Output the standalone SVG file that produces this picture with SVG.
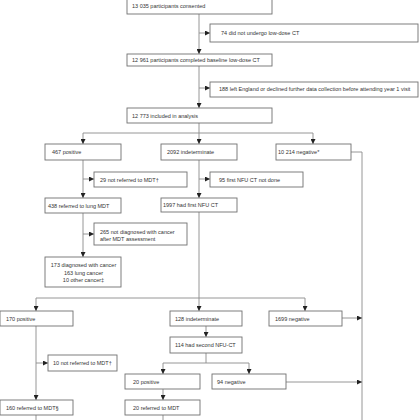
<svg xmlns="http://www.w3.org/2000/svg" width="420" height="420" viewBox="0 0 420 420">
<defs>
<marker id="ah" markerUnits="userSpaceOnUse" markerWidth="5" markerHeight="5" viewBox="0 0 10 10" refX="10" refY="5" orient="auto">
<path d="M0,0 L10,5 L0,10 Z" fill="#222"/>
</marker>
<style>
.box{fill:#fff;stroke:#707070;stroke-width:0.9}
.t{font-family:"Liberation Sans",Arial,sans-serif;font-size:5.5px;fill:#333}
.c{text-anchor:middle}
.ln{fill:none;stroke:#8a8a8a;stroke-width:0.9}
.ar{fill:none;stroke:#8a8a8a;stroke-width:0.9;marker-end:url(#ah)}
</style>
</defs>
<rect width="420" height="420" fill="#fff"/>
<g id="connectors">
<line class="ar" x1="199" y1="14" x2="199" y2="54"/>
<line class="ar" x1="199" y1="33" x2="210" y2="33"/>
<line class="ar" x1="199" y1="66" x2="199" y2="108"/>
<line class="ar" x1="199" y1="88" x2="210" y2="88"/>
<path class="ln" d="M199,123 V133 M83,133 H313"/>
<line class="ar" x1="83" y1="133" x2="83" y2="144"/>
<line class="ar" x1="199" y1="133" x2="199" y2="144"/>
<line class="ar" x1="313" y1="133" x2="313" y2="144"/>
<line class="ar" x1="83" y1="160" x2="83" y2="198"/>
<line class="ar" x1="83" y1="179" x2="94" y2="179"/>
<line class="ar" x1="199" y1="160" x2="199" y2="198"/>
<line class="ar" x1="199" y1="179" x2="210" y2="179"/>
<line class="ar" x1="83" y1="213" x2="83" y2="257"/>
<line class="ar" x1="83" y1="234" x2="94" y2="234"/>
<path class="ln" d="M199,212 V298 M36,298 H305"/>
<path class="ln" d="M351,152 H362 V420"/>
<line class="ar" x1="36" y1="298" x2="36" y2="311"/>
<line class="ar" x1="199" y1="298" x2="199" y2="311"/>
<line class="ar" x1="305" y1="298" x2="305" y2="311"/>
<line class="ar" x1="342" y1="318" x2="362" y2="318"/>
<line class="ar" x1="206" y1="326" x2="206" y2="337"/>
<path class="ln" d="M206,353 V363 M163,363 H249"/>
<line class="ar" x1="163" y1="363" x2="163" y2="374"/>
<line class="ar" x1="249" y1="363" x2="249" y2="374"/>
<line class="ar" x1="286" y1="382" x2="362" y2="382"/>
<line class="ar" x1="163" y1="389" x2="163" y2="400"/>
<line class="ln" x1="163" y1="415" x2="163" y2="420"/>
<line class="ar" x1="36" y1="326" x2="36" y2="400"/>
<line class="ar" x1="36" y1="363" x2="48" y2="363"/>
<line class="ln" x1="36" y1="415" x2="36" y2="420"/>
</g>
<g id="n-consented"><rect class="box" x="127" y="-2" width="145" height="16"/><text class="t" x="132" y="8">13 035 participants consented</text></g>
<g id="n-noct"><rect class="box" x="210" y="24" width="208" height="18"/><text class="t" x="221" y="35">74 did not undergo low-dose CT</text></g>
<g id="n-baseline"><rect class="box" x="127" y="54" width="145" height="12"/><text class="t" x="132" y="62">12 961 participants completed baseline low-dose CT</text></g>
<g id="n-left"><rect class="box" x="210" y="82" width="208" height="15"/><text class="t" x="219" y="91">188 left England or declined further data collection before attending year 1 visit</text></g>
<g id="n-analysis"><rect class="box" x="127" y="108" width="145" height="15"/><text class="t" x="132" y="117.5">12 773 included in analysis</text></g>
<g id="n-pos1"><rect class="box" x="45" y="144" width="76" height="16"/><text class="t" x="52" y="154">467 positive</text></g>
<g id="n-ind1"><rect class="box" x="161" y="144" width="76" height="16"/><text class="t" x="167" y="154">2092 indeterminate</text></g>
<g id="n-neg1"><rect class="box" x="276" y="144" width="75" height="16"/><text class="t" x="278" y="154">10 214 negative*</text></g>
<g id="n-notref1"><rect class="box" x="94" y="172" width="93" height="15"/><text class="t" x="100" y="181.5">29 not referred to MDT†</text></g>
<g id="n-nfunot"><rect class="box" x="210" y="172" width="93" height="15"/><text class="t" x="219" y="181.5">95 first NFU CT not done</text></g>
<g id="n-ref1"><rect class="box" x="45" y="198" width="76" height="15"/><text class="t" x="48" y="207.5">438 referred to lung MDT</text></g>
<g id="n-nfu1"><rect class="box" x="161" y="198" width="76" height="14"/><text class="t" x="163" y="207">1997 had first NFU CT</text></g>
<g id="n-notdiag"><rect class="box" x="94" y="223" width="93" height="22"/><text class="t" x="100" y="233.5">265 not diagnosed with cancer</text><text class="t" x="100" y="241">after MDT assessment</text></g>
<g id="n-diag"><rect class="box" x="45" y="257" width="76" height="30"/><text class="t c" x="83.5" y="267">173 diagnosed with cancer</text><text class="t c" x="83.5" y="274.5">163 lung cancer</text><text class="t c" x="83.5" y="282">10 other cancer‡</text></g>
<g id="n-pos2"><rect class="box" x="0" y="311" width="73" height="15"/><text class="t" x="6" y="320.5">170 positive</text></g>
<g id="n-ind2"><rect class="box" x="170" y="311" width="72" height="15"/><text class="t" x="175" y="320.5">128 indeterminate</text></g>
<g id="n-neg2"><rect class="box" x="269" y="311" width="73" height="15"/><text class="t" x="275" y="320.5">1699 negative</text></g>
<g id="n-nfu2"><rect class="box" x="170" y="337" width="72" height="16"/><text class="t" x="175" y="347">114 had second NFU-CT</text></g>
<g id="n-notref2"><rect class="box" x="48" y="355" width="69" height="16"/><text class="t" x="53" y="365">10 not referred to MDT†</text></g>
<g id="n-pos3"><rect class="box" x="125" y="374" width="75" height="15"/><text class="t" x="133" y="383.5">20 positive</text></g>
<g id="n-neg3"><rect class="box" x="212" y="374" width="74" height="15"/><text class="t" x="217" y="383.5">94 negative</text></g>
<g id="n-ref2"><rect class="box" x="0" y="400" width="73" height="15"/><text class="t" x="6" y="409.5">160 referred to MDT§</text></g>
<g id="n-ref3"><rect class="box" x="125" y="400" width="75" height="15"/><text class="t" x="133" y="409.5">20 referred to MDT</text></g>
</svg>
